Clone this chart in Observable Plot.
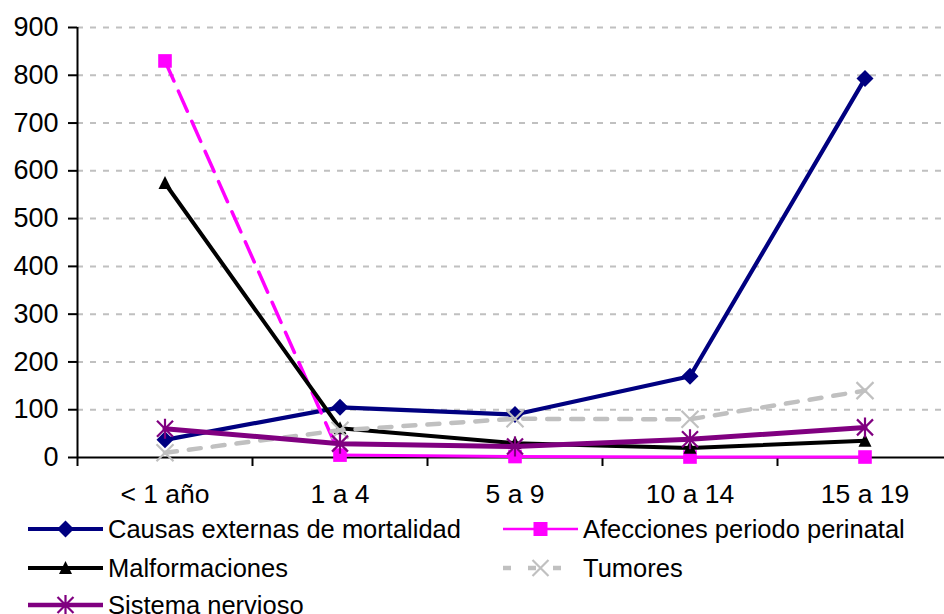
<!DOCTYPE html>
<html>
<head>
<meta charset="utf-8">
<script src="https://cdn.jsdelivr.net/npm/d3@7"></script>
<script src="https://cdn.jsdelivr.net/npm/@observablehq/plot@0.6"></script>
<style>
  html, body { margin: 0; padding: 0; background: #fff; overflow: hidden; }
  body { width: 944px; height: 614px; font-family: "Liberation Sans", Arial, sans-serif; }
  #legend { position: relative; width: 944px; height: 102px; font-size: 25.5px; color: #000; }
  .item { position: absolute; height: 36px; display: flex; align-items: center; white-space: nowrap; }
  .item svg { display: block; }
</style>
</head>
<body>
<div id="chart"></div>
<div id="legend"></div>
<script>
const categories = ["< 1 año", "1 a 4", "5 a 9", "10 a 14", "15 a 19"];
const causasExternas = [37, 105, 90, 170, 793];
const afeccionesPerinatal = [830, 5, 2, 1, 1];
const malformaciones = [574, 61, 30, 20, 35];
const tumores = [10, 57, 81, 80, 140];
const sistemaNervioso = [60, 29, 23, 38, 63];
const yTicks = [0, 100, 200, 300, 400, 500, 600, 700, 800, 900];
const seriesNames = ["Causas externas de mortalidad", "Afecciones periodo perinatal", "Malformaciones", "Tumores", "Sistema nervioso"];

const rows = (vals) => vals.map((v, i) => ({x: i + 0.5, y: v, cat: categories[i]}));

const rad = (size) => Math.sqrt(size / Math.PI);
const diamondSym = {draw(c, s) { const r = rad(s); c.moveTo(0, -r); c.lineTo(r, 0); c.lineTo(0, r); c.lineTo(-r, 0); c.closePath(); }};
const squareSym = {draw(c, s) { const r = rad(s); c.rect(-r, -r, 2 * r, 2 * r); }};
const triSym = {draw(c, s) { const r = rad(s); c.moveTo(0, -r * 1.1); c.lineTo(r, r * 0.9); c.lineTo(-r, r * 0.9); c.closePath(); }};
const timesSym = {draw(c, s) { const r = rad(s); c.moveTo(-r, -r); c.lineTo(r, r); c.moveTo(r, -r); c.lineTo(-r, r); }};
const starSym = {draw(c, s) { const r = rad(s); c.moveTo(-r, -r); c.lineTo(r, r); c.moveTo(r, -r); c.lineTo(-r, r); c.moveTo(0, -r * 1.25); c.lineTo(0, r * 1.25); }};

const navy = "#000080", magenta = "#FF00FF", black = "#000000", gray = "#C0C0C0", purple = "#800080";

const cData = rows(causasExternas), aData = rows(afeccionesPerinatal), mData = rows(malformaciones), tData = rows(tumores), sData = rows(sistemaNervioso);

const chart = Plot.plot({
  width: 944,
  height: 512,
  marginLeft: 77,
  marginRight: -8,
  marginTop: 27,
  marginBottom: 55,
  style: {fontFamily: "Liberation Sans, Arial, sans-serif", background: "#fff", overflow: "visible"},
  x: {type: "linear", domain: [0, 5]},
  y: {type: "linear", domain: [0, 900]},
  marks: [
    Plot.ruleY(yTicks.filter(d => d > 0), {stroke: gray, strokeWidth: 2, strokeDasharray: "6,7"}),
    Plot.axisY(yTicks, {tickSize: 9, tickPadding: 10, fontSize: 27, stroke: black, strokeWidth: 2, label: null, tickFormat: d => String(d)}),
    Plot.axisX([0, 1, 2, 3, 4, 5], {tickSize: 9, stroke: black, strokeWidth: 2, tickFormat: () => "", label: null}),
    Plot.axisX(categories.map((d, i) => i + 0.5), {tickSize: 0, tickPadding: 27, fontSize: 26.5, label: null, tickFormat: (d) => categories[Math.round(d - 0.5)]}),
    Plot.ruleX([0], {stroke: black, strokeWidth: 2}),
    Plot.ruleY([0], {stroke: black, strokeWidth: 2}),
    // Causas externas
    Plot.line(cData, {x: "x", y: "y", stroke: navy, strokeWidth: 4.2}),
    Plot.dot(cData, {x: "x", y: "y", symbol: diamondSym, r: 8.5, fill: navy, stroke: "none"}),
    // Afecciones perinatal
    Plot.line(aData.slice(0, 2), {x: "x", y: "y", stroke: magenta, strokeWidth: 3.5, strokeDasharray: "22,11"}),
    Plot.line(aData.slice(1), {x: "x", y: "y", stroke: magenta, strokeWidth: 3}),
    Plot.dot(aData, {x: "x", y: "y", symbol: squareSym, r: 6.8, fill: magenta, stroke: "none"}),
    // Malformaciones
    Plot.line(mData, {x: "x", y: "y", stroke: black, strokeWidth: 4}),
    Plot.dot(mData, {x: "x", y: "y", symbol: triSym, r: 6.5, fill: black, stroke: "none"}),
    // Tumores
    Plot.line(tData, {x: "x", y: "y", stroke: gray, strokeWidth: 4.5, strokeDasharray: "12,12"}),
    Plot.dot(tData, {x: "x", y: "y", symbol: timesSym, r: 8.5, fill: "none", stroke: gray, strokeWidth: 2.2}),
    // Sistema nervioso
    Plot.line(sData, {x: "x", y: "y", stroke: purple, strokeWidth: 5}),
    Plot.dot(sData, {x: "x", y: "y", symbol: starSym, r: 8, fill: "none", stroke: purple, strokeWidth: 2.2})
  ]
});
document.getElementById("chart").appendChild(chart);

// Legend
const legendItems = [
  {name: seriesNames[0], color: navy, w: 4, dash: null, marker: "diamond", left: 28, top: -1},
  {name: seriesNames[1], color: magenta, w: 2.5, dash: null, marker: "square", left: 503, top: -1},
  {name: seriesNames[2], color: black, w: 4, dash: null, marker: "triangle", left: 28, top: 38},
  {name: seriesNames[3], color: gray, w: 4.5, dash: "8,17", marker: "times", left: 503, top: 38},
  {name: seriesNames[4], color: purple, w: 4.5, dash: null, marker: "star", left: 28, top: 75}
];
function markerPath(kind, cx, cy) {
  if (kind === "diamond") return `<path d="M${cx},${cy-8.5}L${cx+8.5},${cy}L${cx},${cy+8.5}L${cx-8.5},${cy}Z" fill="${navy}"/>`;
  if (kind === "square") return `<rect x="${cx-7}" y="${cy-7}" width="14" height="14" fill="${magenta}"/>`;
  if (kind === "triangle") return `<path d="M${cx},${cy-7}L${cx+6.5},${cy+6}L${cx-6.5},${cy+6}Z" fill="${black}"/>`;
  if (kind === "times") return `<path d="M${cx-8},${cy-8}L${cx+8},${cy+8}M${cx+8},${cy-8}L${cx-8},${cy+8}" stroke="${gray}" stroke-width="2.2" fill="none"/>`;
  return `<path d="M${cx-8},${cy-8}L${cx+8},${cy+8}M${cx+8},${cy-8}L${cx-8},${cy+8}M${cx},${cy-10}L${cx},${cy+10}" stroke="${purple}" stroke-width="2.2" fill="none"/>`;
}
const legend = document.getElementById("legend");
for (const it of legendItems) {
  const div = document.createElement("div");
  div.className = "item";
  div.style.left = it.left + "px";
  div.style.top = it.top + "px";
  const sw = 75, cy = 18;
  const line = `<line x1="0" y1="${cy}" x2="${sw}" y2="${cy}" stroke="${it.color}" stroke-width="${it.w}" ${it.dash ? `stroke-dasharray="${it.dash}"` : ""}/>`;
  div.innerHTML = `<svg width="${sw}" height="36">${line}${markerPath(it.marker, sw / 2, cy)}</svg><span style="margin-left:5px">${it.name}</span>`;
  legend.appendChild(div);
}
</script>
</body>
</html>
